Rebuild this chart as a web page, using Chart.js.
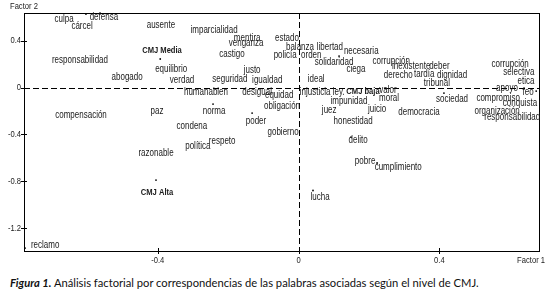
<!DOCTYPE html>
<html>
<head>
<meta charset="utf-8">
<script src="https://cdn.jsdelivr.net/npm/chart.js@4.4.1/dist/chart.umd.min.js"></script>
<style>
  body { margin: 0; background: #fff; }
  #wrap { position: relative; width: 546px; height: 303px; }
  #caption { position: absolute; left: 10px; top: 276px; font-family: Lato, 'Open Sans', sans-serif; font-size: 11.2px; color: #111; white-space: nowrap; }
  #caption b { font-style: italic; }
</style>
</head>
<body>
<div id="wrap">
  <canvas id="myChart" width="546" height="272"></canvas>
  <div id="caption"><b>Figura 1.</b> Análisis factorial por correspondencias de las palabras asociadas según el nivel de CMJ.</div>
</div>
<script>
// palabras y coordenadas (factor 1, factor 2)
const words = [
    'culpa', 'defensa', 'cárcel', 'ausente', 'imparcialidad', 'mentira', 'venganza', 'estado',
    'balanza', 'libertad', 'necesaria', 'castigo', 'policía', 'orden', 'solidaridad', 'ciega',
    'corrupción', 'inexistente', 'deber', 'derecho', 'tardía', 'dignidad', 'tribunal',
    'corrupción', 'selectiva', 'etica', 'apoyo', 'feo', 'compromiso', 'conquista', 'organización', 'responsabilidad',
    'responsabilidad', 'CMJ Media', 'equilibrio', 'abogado', 'verdad', 'justo', 'seguridad', 'igualdad', 'ideal',
    'humanabien', 'desigual', 'equidad', 'injusticia ley.', 'CMJ baja', 'valor', 'moral', 'impunidad',
    'juez', 'juicio', 'honestidad', 'sociedad', 'democracia', 'delito', 'pobre', 'cumplimiento', 'lucha',
    'obligación', 'norma', 'poder', 'condena', 'gobierno', 'respeto', 'política', 'razonable',
    'CMJ Alta', 'reclamo', 'compensación', 'paz'
];
const factor1 = [
    -0.666, -0.553, -0.615, -0.391, -0.240, -0.146, -0.149, -0.033,
    0.004, 0.089, 0.178, -0.189, -0.038, 0.036, 0.101, 0.163,
    0.263, 0.320, 0.400, 0.283, 0.357, 0.436, 0.393,
    0.601, 0.626, 0.646, 0.592, 0.652, 0.567, 0.629, 0.564, 0.607,
    -0.621, -0.388, -0.362, -0.487, -0.331, -0.132, -0.195, -0.089, 0.050,
    -0.263, -0.118, -0.055, 0.067, 0.183, 0.254, 0.257, 0.143,
    0.087, 0.223, 0.155, 0.436, 0.342, 0.169, 0.189, 0.283, 0.061,
    -0.047, -0.240, -0.121, -0.303, -0.044, -0.217, -0.286, -0.405,
    -0.402, -0.720, -0.618, -0.402
];
const factor2 = [
    0.585, 0.603, 0.526, 0.534, 0.491, 0.423, 0.380, 0.423,
    0.346, 0.346, 0.312, 0.286, 0.278, 0.278, 0.218, 0.158,
    0.226, 0.184, 0.184, 0.107, 0.115, 0.107, 0.038,
    0.201, 0.132, 0.056, -0.004, -0.038, -0.090, -0.132, -0.201, -0.252,
    0.235, 0.321, 0.158, 0.090, 0.064, 0.150, 0.073, 0.064, 0.073,
    -0.038, -0.038, -0.064, -0.038, -0.030, -0.021, -0.090, -0.115,
    -0.192, -0.184, -0.286, -0.098, -0.209, -0.449, -0.628, -0.679, -0.936,
    -0.158, -0.201, -0.286, -0.329, -0.380, -0.457, -0.500, -0.560,
    -0.893, -1.346, -0.235, -0.201
];

// puntos visibles
const dotX = [-0.604, -0.393, -0.405, -0.777, 0.115, 0.223, 0.413, -0.243, -0.132, 0.675, 0.149, 0.041];
const dotY = [0.628, 0.244, -0.791, -1.372, 0.269, -0.645, -0.047, -0.141, -0.218, -0.030, -0.423, -0.880];

const xTicks = [-0.4, 0, 0.4];
const yTicks = [0.4, 0, -0.4, -0.8, -1.2];

const FONT = "'Liberation Sans', Arial, sans-serif";

// texto angosto (tipo Arial Narrow)
function narrowText(ctx, text, x, y, font, align) {
    ctx.save();
    ctx.font = font;
    ctx.textAlign = align || 'center';
    ctx.textBaseline = 'middle';
    ctx.translate(x, y);
    ctx.scale(0.8, 1);
    ctx.fillText(text, 0, 0);
    ctx.restore();
}

const fmt = v => v === 0 ? '0' : v.toFixed(1);

// marco, ejes en cero y etiquetas
const framePlugin = {
    id: 'frame',
    beforeDatasetsDraw(chart) {
        const { ctx, chartArea: a, scales } = chart;
        const x0 = scales.x.getPixelForValue(0);
        const y0 = scales.y.getPixelForValue(0);
        ctx.save();
        ctx.strokeStyle = '#000';
        ctx.lineWidth = 1;
        ctx.strokeRect(a.left + 0.5, a.top + 0.5, a.right - a.left, a.bottom - a.top);
        ctx.setLineDash([6, 3]);
        ctx.beginPath();
        ctx.moveTo(Math.round(x0) + 0.5, a.top);
        ctx.lineTo(Math.round(x0) + 0.5, a.bottom);
        ctx.moveTo(a.left, Math.round(y0) + 0.5);
        ctx.lineTo(a.right, Math.round(y0) + 0.5);
        ctx.stroke();
        ctx.setLineDash([]);
        // marcas y etiquetas de los ticks
        ctx.beginPath();
        xTicks.forEach(v => {
            const px = Math.round(scales.x.getPixelForValue(v)) + 0.5;
            ctx.moveTo(px, a.bottom - 3);
            ctx.lineTo(px, a.bottom + 3);
        });
        yTicks.forEach(v => {
            const py = Math.round(scales.y.getPixelForValue(v)) + 0.5;
            ctx.moveTo(a.left - 3, py);
            ctx.lineTo(a.left + 3, py);
        });
        ctx.stroke();
        ctx.fillStyle = '#222';
        const tf = '9.5px ' + FONT;
        xTicks.forEach(v => narrowText(ctx, fmt(v), scales.x.getPixelForValue(v), a.bottom + 9, tf));
        yTicks.forEach(v => narrowText(ctx, fmt(v), a.left - 3, scales.y.getPixelForValue(v), tf, 'right'));
        narrowText(ctx, 'Factor 2', 10, a.top - 7, tf, 'left');
        narrowText(ctx, 'Factor 1', 545, a.bottom + 9, tf, 'right');
        ctx.restore();
    },
    afterDatasetsDraw(chart) {
        const { ctx } = chart;
        const meta = chart.getDatasetMeta(0);
        ctx.save();
        ctx.fillStyle = '#1a1a1a';
        meta.data.forEach((pt, i) => {
            const label = words[i];
            const font = label.startsWith('CMJ') ? 'bold 9.5px ' + FONT : '10px ' + FONT;
            narrowText(ctx, label, pt.x, pt.y, font);
        });
        ctx.restore();
    }
};

function drawChart() {
    const ctx = document.getElementById('myChart').getContext('2d');

    const config = {
        type: 'scatter',
        data: {
            datasets: [{
                label: 'palabras',
                data: words.map((w, i) => ({ x: factor1[i], y: factor2[i] })),
                pointRadius: 0
            }, {
                label: 'puntos',
                data: dotX.map((v, i) => ({ x: v, y: dotY[i] })),
                pointRadius: 0.9,
                backgroundColor: '#000',
                borderWidth: 0
            }]
        },
        options: {
            responsive: false,
            animation: false,
            layout: { padding: { left: 0, right: 7, top: 13, bottom: 0 } },
            scales: {
                x: {
                    type: 'linear',
                    min: -0.78,
                    max: 0.683,
                    afterFit: s => { s.height = 21; },
                    grid: { display: false },
                    border: { display: false },
                    ticks: { display: false }
                },
                y: {
                    type: 'linear',
                    min: -1.397,
                    max: 0.637,
                    afterFit: s => { s.width = 24; },
                    grid: { display: false },
                    border: { display: false },
                    ticks: { display: false }
                }
            },
            plugins: {
                legend: { display: false },
                tooltip: { enabled: false }
            }
        },
        plugins: [framePlugin]
    };

    new Chart(ctx, config);
}

drawChart();
</script>
</body>
</html>
